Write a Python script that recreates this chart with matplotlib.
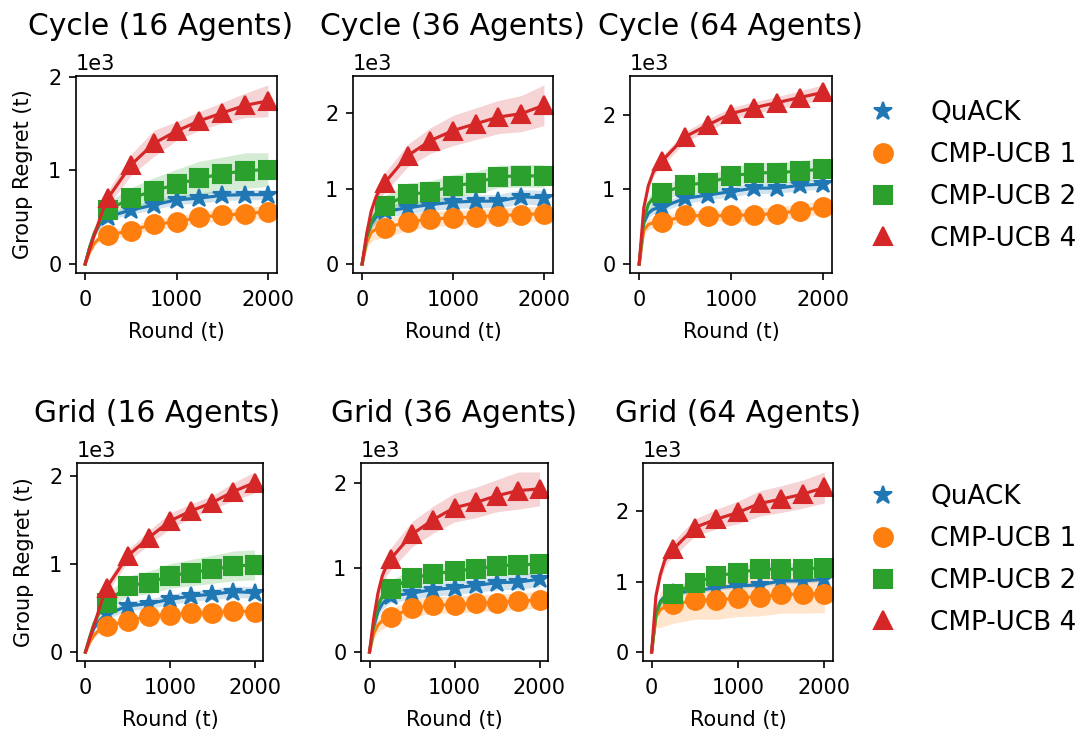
import matplotlib
matplotlib.use("Agg")
from matplotlib import pyplot as plt
from matplotlib.lines import Line2D
import numpy as np

rounds = [0, 50, 100, 150, 200, 250, 500, 750, 1000, 1250, 1500, 1750, 2000]

labels = ["QuACK", "CMP-UCB 1", "CMP-UCB 2", "CMP-UCB 4"]
colors = ["tab:blue", "tab:orange", "tab:green", "tab:red"]
markers = ["*", "o", "s", "^"]

# cycle, 16 agents
c16_quack = [0, 180, 320, 410, 470, 505, 575, 630, 685, 703, 733, 740, 740]
c16_quack_sd = [0, 20, 30, 35, 40, 40, 45, 50, 50, 55, 55, 55, 55]
c16_ucb1 = [0, 130, 220, 270, 295, 311, 355, 428, 447, 502, 520, 538, 557]
c16_ucb1_sd = [0, 20, 30, 40, 45, 45, 50, 55, 60, 60, 65, 65, 70]
c16_ucb2 = [0, 180, 330, 430, 520, 575, 703, 780, 850, 916, 960, 996, 1007]
c16_ucb2_sd = [0, 30, 50, 70, 80, 90, 110, 140, 160, 180, 180, 190, 180]
c16_ucb4 = [0, 160, 310, 450, 590, 703, 1055, 1286, 1418, 1527, 1612, 1692, 1740]
c16_ucb4_sd = [0, 20, 40, 60, 70, 80, 110, 140, 100, 100, 110, 130, 170]

# cycle, 36 agents
c36_quack = [0, 330, 530, 620, 670, 700, 745, 790, 821, 835, 835, 893, 879]
c36_quack_sd = [0, 40, 60, 70, 75, 80, 80, 80, 85, 85, 90, 95, 100]
c36_ucb1 = [0, 280, 420, 460, 470, 478, 558, 598, 612, 625, 643, 656, 670]
c36_ucb1_sd = [0, 80, 120, 130, 130, 130, 110, 100, 100, 100, 100, 100, 100]
c36_ucb2 = [0, 350, 560, 670, 730, 768, 924, 955, 1036, 1080, 1161, 1170, 1170]
c36_ucb2_sd = [0, 60, 100, 120, 130, 140, 150, 150, 150, 150, 150, 150, 150]
c36_ucb4 = [0, 400, 700, 880, 1000, 1080, 1437, 1638, 1772, 1862, 1951, 1996, 2107]
c36_ucb4_sd = [0, 50, 90, 110, 120, 130, 150, 170, 200, 210, 220, 240, 270]

# cycle, 64 agents
c64_quack = [0, 550, 680, 730, 750, 764, 879, 924, 970, 1016, 1016, 1053, 1070]
c64_quack_sd = [0, 50, 60, 60, 60, 60, 65, 65, 70, 70, 70, 70, 70]
c64_ucb1 = [0, 450, 530, 550, 555, 560, 650, 645, 650, 660, 675, 715, 760]
c64_ucb1_sd = [0, 60, 70, 70, 70, 70, 70, 70, 80, 90, 90, 90, 90]
c64_ucb2 = [0, 600, 800, 880, 920, 947, 1062, 1085, 1176, 1222, 1222, 1245, 1270]
c64_ucb2_sd = [0, 80, 100, 100, 100, 100, 100, 110, 120, 130, 140, 140, 140]
c64_ucb4 = [0, 750, 1050, 1220, 1320, 1382, 1703, 1863, 2014, 2092, 2160, 2229, 2297]
c64_ucb4_sd = [0, 50, 60, 60, 70, 70, 70, 80, 80, 80, 80, 90, 100]

# grid, 16 agents
g16_quack = [0, 150, 270, 340, 390, 428, 523, 549, 598, 636, 655, 686, 674]
g16_quack_sd = [0, 20, 30, 40, 45, 50, 55, 55, 60, 60, 60, 65, 65]
g16_ucb1 = [0, 110, 190, 240, 270, 295, 352, 409, 420, 447, 447, 466, 458]
g16_ucb1_sd = [0, 20, 30, 40, 40, 40, 45, 45, 50, 50, 50, 50, 50]
g16_ucb2 = [0, 170, 320, 420, 500, 561, 750, 788, 864, 902, 939, 977, 989]
g16_ucb2_sd = [0, 30, 60, 80, 90, 100, 110, 130, 140, 150, 160, 170, 170]
g16_ucb4 = [0, 150, 300, 450, 600, 731, 1091, 1299, 1489, 1602, 1697, 1822, 1924]
g16_ucb4_sd = [0, 20, 30, 40, 50, 60, 70, 80, 90, 80, 80, 100, 120]

# grid, 36 agents
g36_quack = [0, 300, 480, 570, 620, 659, 699, 739, 760, 788, 820, 828, 861]
g36_quack_sd = [0, 40, 60, 70, 70, 75, 75, 80, 80, 80, 85, 85, 90]
g36_ucb1 = [0, 220, 320, 370, 400, 416, 517, 558, 558, 578, 586, 598, 618]
g36_ucb1_sd = [0, 60, 90, 100, 100, 100, 100, 100, 100, 100, 100, 100, 100]
g36_ucb2 = [0, 330, 550, 660, 720, 747, 881, 921, 962, 982, 1022, 1030, 1042]
g36_ucb2_sd = [0, 60, 90, 100, 100, 100, 100, 100, 110, 110, 110, 120, 120]
g36_ucb4 = [0, 400, 700, 900, 1020, 1103, 1394, 1568, 1709, 1770, 1851, 1911, 1931]
g36_ucb4_sd = [0, 50, 90, 110, 120, 130, 150, 160, 170, 180, 190, 220, 200]

# grid, 64 agents
g64_quack = [0, 550, 720, 790, 830, 846, 869, 917, 941, 955, 1012, 1012, 1036]
g64_quack_sd = [0, 40, 40, 40, 35, 35, 35, 35, 35, 35, 35, 35, 35]
g64_ucb1 = [0, 500, 600, 640, 660, 679, 736, 736, 774, 784, 822, 822, 831]
g64_ucb1_sd = [0, 150, 250, 270, 270, 270, 270, 270, 270, 270, 270, 270, 270]
g64_ucb2 = [0, 550, 700, 770, 800, 822, 988, 1083, 1131, 1178, 1178, 1178, 1202]
g64_ucb2_sd = [0, 60, 70, 80, 80, 80, 80, 80, 90, 90, 90, 90, 90]
g64_ucb4 = [0, 800, 1100, 1300, 1400, 1463, 1772, 1891, 1986, 2114, 2176, 2247, 2342]
g64_ucb4_sd = [0, 60, 80, 100, 100, 110, 120, 140, 160, 180, 190, 200, 220]

panels = [
    ("Cycle (16 Agents)", [c16_quack, c16_ucb1, c16_ucb2, c16_ucb4],
     [c16_quack_sd, c16_ucb1_sd, c16_ucb2_sd, c16_ucb4_sd]),
    ("Cycle (36 Agents)", [c36_quack, c36_ucb1, c36_ucb2, c36_ucb4],
     [c36_quack_sd, c36_ucb1_sd, c36_ucb2_sd, c36_ucb4_sd]),
    ("Cycle (64 Agents)", [c64_quack, c64_ucb1, c64_ucb2, c64_ucb4],
     [c64_quack_sd, c64_ucb1_sd, c64_ucb2_sd, c64_ucb4_sd]),
    ("Grid (16 Agents)", [g16_quack, g16_ucb1, g16_ucb2, g16_ucb4],
     [g16_quack_sd, g16_ucb1_sd, g16_ucb2_sd, g16_ucb4_sd]),
    ("Grid (36 Agents)", [g36_quack, g36_ucb1, g36_ucb2, g36_ucb4],
     [g36_quack_sd, g36_ucb1_sd, g36_ucb2_sd, g36_ucb4_sd]),
    ("Grid (64 Agents)", [g64_quack, g64_ucb1, g64_ucb2, g64_ucb4],
     [g64_quack_sd, g64_ucb1_sd, g64_ucb2_sd, g64_ucb4_sd]),
]

# axes boxes in pixels: left, right, top, bottom
boxes = [
    (76, 277, 76, 273), (353, 553, 76, 273), (630, 832, 76, 273),
    (77, 263, 463, 661), (361, 548, 463, 661), (643, 833, 463, 661),
]
# first column titles sit a bit left of the axes centre
title_x = [0.42, 0.5, 0.5, 0.43, 0.5, 0.5]

W, H = 1086, 731
fig = plt.figure(figsize=(W / 150, H / 150), dpi=150)

x = np.array(rounds)
mark_idx = [i for i, r in enumerate(rounds) if r >= 250]

for k, (title, means, sds) in enumerate(panels):
    l, r, t, b = boxes[k]
    ax = fig.add_axes([l / W, 1 - b / H, (r - l) / W, (b - t) / H])
    for m, s, c, mk in zip(means, sds, colors, markers):
        m = np.array(m)
        s = np.array(s)
        ax.fill_between(x, m - s, m + s, color=c, alpha=0.2, linewidth=0)
        ax.plot(x, m, color=c, marker=mk, markevery=mark_idx, markersize=9)
    ax.set_title(title, fontsize=14.3, pad=9, x=title_x[k])
    ax.set_xlabel("Round (t)", fontsize=10, labelpad=6)
    if k % 3 == 0:
        ax.set_ylabel("Group Regret (t)", fontsize=10, labelpad=7.5)
    ax.set_xticks([0, 1000, 2000])
    ax.tick_params(axis="x", pad=4.5)
    ax.ticklabel_format(axis="y", style="sci", scilimits=(0, 0))

handles = [Line2D([], [], color=c, marker=mk, linestyle="None", markersize=9)
           for c, mk in zip(colors, markers)]
for yc in [176, 560]:
    fig.legend(handles, labels, loc="center left", bbox_to_anchor=(846 / W, 1 - yc / H),
               frameon=False, fontsize=12.6, borderaxespad=0, labelspacing=0.6)

fig.savefig("out.png", dpi=150)
